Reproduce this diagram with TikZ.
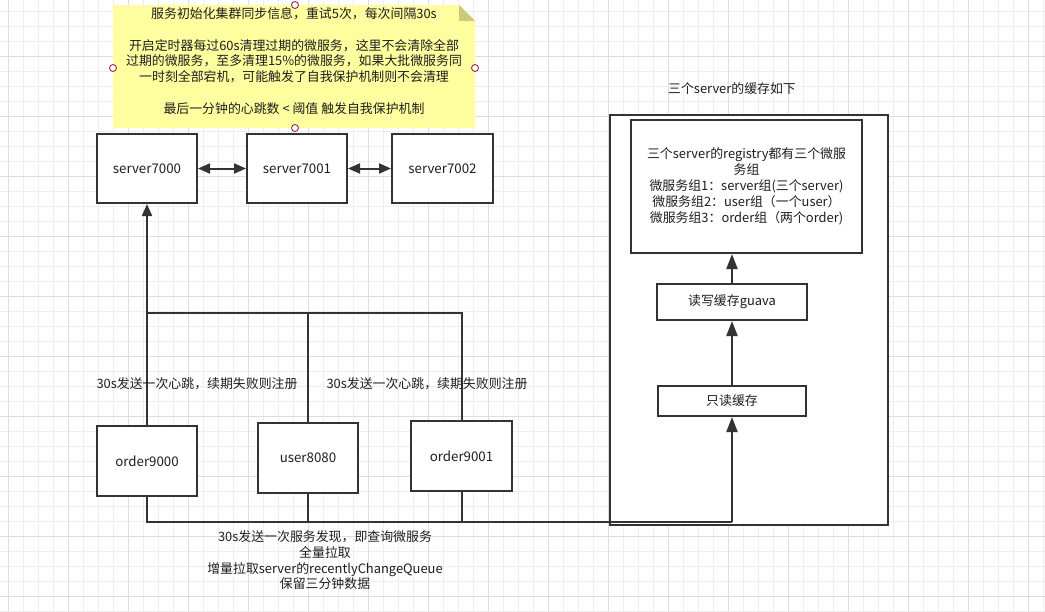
\documentclass[tikz,border=0pt]{standalone}
\usepackage{fontspec}
\setmainfont{Noto Sans CJK SC}
\usetikzlibrary{arrows.meta}
\definecolor{ink}{RGB}{51,51,51}
\definecolor{txt}{RGB}{30,30,30}
\definecolor{gridminor}{RGB}{238,238,238}
\definecolor{gridmajor}{RGB}{222,222,222}
\definecolor{notefill}{RGB}{255,255,160}
\definecolor{notefold}{RGB}{205,201,122}
\definecolor{handle}{RGB}{150,50,60}
\tikzset{
  box/.style={draw=ink,line width=2pt,fill=white,inner sep=0pt,font=\fontsize{13.3}{16}\selectfont,text=txt},
  conn/.style={draw=ink,line width=2pt},
  arr/.style={conn,-{Triangle[length=12pt,width=10pt]}},
  darr/.style={conn,{Triangle[length=12pt,width=10pt]}-{Triangle[length=12pt,width=10pt]}},
  arrb/.style={conn,-{Triangle[length=15pt,width=11pt]}},
  lbl/.style={inner sep=0pt,align=center,font=\fontsize{12.9}{15.7}\selectfont,text=txt},
  hdl/.style={draw=handle,fill=white,line width=0.9pt}
}
\begin{document}
\begin{tikzpicture}[x=1pt,y=-1pt]
\useasboundingbox (0,0) rectangle (1045,611);
% grid
\foreach \i in {0,...,69}{\draw[gridminor,line width=0.8pt] ({8+15*\i},0) -- ({8+15*\i},611);}
\foreach \i in {0,...,40}{\draw[gridminor,line width=0.8pt] (0,{11.7+15*\i}) -- (1045,{11.7+15*\i});}
\foreach \i in {0,...,17}{\draw[gridmajor,line width=0.9pt] ({8+60*\i},0) -- ({8+60*\i},611);}
\foreach \i in {0,...,10}{\draw[gridmajor,line width=0.9pt] (0,{-3.3+60*\i}) -- (1045,{-3.3+60*\i});}

% note
\fill[notefill] (113,5) -- (459,5) -- (475,21) -- (475,128) -- (113,128) -- cycle;
\fill[notefold] (459,5) -- (459,21) -- (475,21) -- cycle;
\node[lbl] (note) at (294,61) {服务初始化集群同步信息，重试5次，每次间隔30s\\[15.7pt]
开启定时器每过60s清理过期的微服务，这里不会清除全部\\
过期的微服务，至多清理15\%的微服务，如果大批微服务同\\
一时刻全部宕机，可能触发了自我保护机制则不会清理\\[15.7pt]
最后一分钟的心跳数 < 阈值 触发自我保护机制};
\draw[hdl] (295,5) circle (3.5);
\draw[hdl] (113,68) circle (3.5);
\draw[hdl] (475,68) circle (3.5);

% servers
\node[box,minimum width=100pt,minimum height=69pt] (s0) at (147,168.5) {server7000};
\node[box,minimum width=100pt,minimum height=69pt] (s1) at (297,168.5) {server7001};
\node[box,minimum width=101pt,minimum height=69pt] (s2) at (442.5,168.5) {server7002};
\draw[hdl] (295,128) circle (3.5);

% clients
\node[box,minimum width=100pt,minimum height=70pt] (o0) at (147,461) {order9000};
\node[box,minimum width=100pt,minimum height=70pt] (u) at (308,458) {user8080};
\node[box,minimum width=101pt,minimum height=70pt] (o1) at (461.5,456) {order9001};

% right container
\node[box,minimum width=278pt,minimum height=410pt] (cont) at (749,320) {};
\node[lbl] (ctitle) at (732,89) {三个server的缓存如下};
\node[box,minimum width=231pt,minimum height=133pt,align=center,font=\fontsize{12.9}{16}\selectfont] (reg) at (746.5,186.5) {三个server的registry都有三个微服\\务组\\微服务组1：server组(三个server)\\微服务组2：user组（一个user）\\微服务组3：order组（两个order)};
\node[box,minimum width=150pt,minimum height=36pt,font=\fontsize{12.9}{16}\selectfont] (rw) at (732,302) {读写缓存guava};
\node[box,minimum width=148pt,minimum height=30pt,font=\fontsize{12.9}{16}\selectfont] (ro) at (732,401) {只读缓存};

% connectors
\draw[darr] (s0) -- (s1);
\draw[darr] (s1) -- (s2);
\coordinate (hb) at (147,313);
\draw[arr] (o0.north) -- (s0.south);
\draw[conn] (u.north) |- (hb);
\draw[conn] (o1.north) |- (hb);
\coordinate (bl) at (732,521.5);
\draw[conn] (o0.south) |- (bl);
\draw[conn] (u.south) |- (bl);
\draw[conn] (o1.south) |- (bl);
\draw[arrb] (bl) -- (ro.south);
\draw[arrb] (ro.north) -- (rw.south);
\draw[arrb] (rw.north) -- (rw.north |- reg.south);

% labels
\node[lbl] (hl1) at (197,384) {30s发送一次心跳，续期失败则注册};
\node[lbl] (hl2) at (427,384) {30s发送一次心跳，续期失败则注册};
\node[lbl] (dl) at (325,560.5) {30s发送一次服务发现，即查询微服务\\全量拉取\\增量拉取server的recentlyChangeQueue\\保留三分钟数据};
\end{tikzpicture}
\end{document}
